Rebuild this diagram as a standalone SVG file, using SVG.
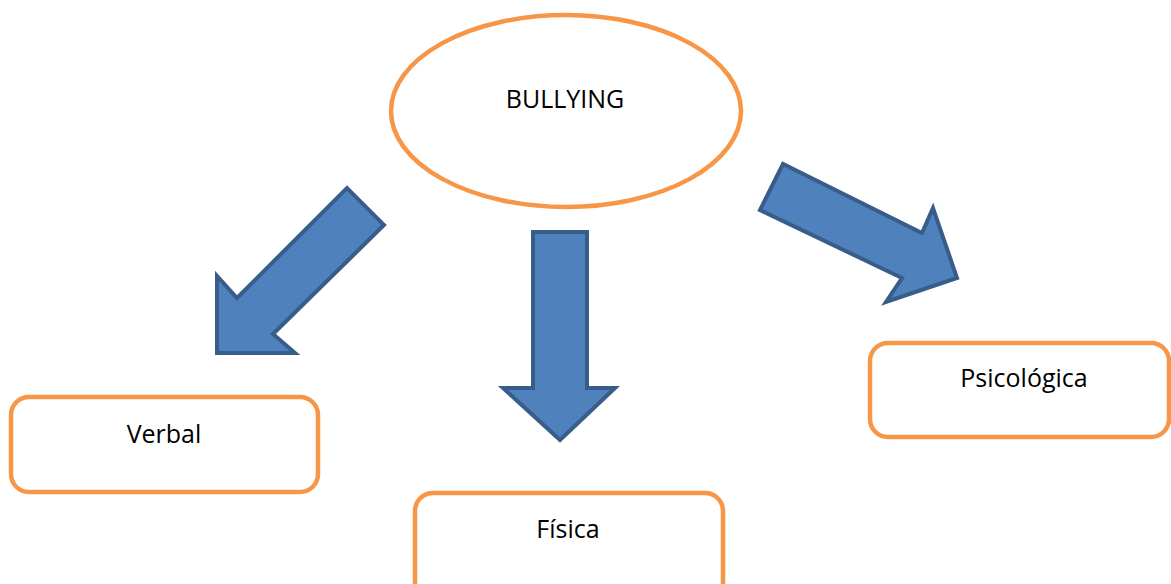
<svg xmlns="http://www.w3.org/2000/svg" width="1171" height="584" viewBox="0 0 1171 584">
<style>
.node{fill:#fff;stroke:#F79646;stroke-width:4.5}
.arrow{fill:#4F81BD;stroke:#385D8A;stroke-width:4;stroke-linejoin:miter}
.lbl{font-family:"Open Sans","Noto Sans",sans-serif;font-size:25px;fill:#000;text-anchor:middle}
</style>
<rect width="1171" height="584" fill="#fff"/>
<g id="connectors">
<polygon class="arrow" points="217,353 217,276 237,298 347,188 384,225 273,334 295,353"/>
<polygon class="arrow" points="533,232 587,232 587,388 615,388 560,440 503,388 533,388"/>
<polygon class="arrow" points="783,164 760,210 902,278 886,302 957,278 933,208 922,233"/>
</g>
<g id="bullying">
<ellipse class="node" cx="566" cy="111" rx="175" ry="96"/>
<text class="lbl" x="565" y="108">BULLYING</text>
</g>
<g id="verbal">
<rect class="node" x="11" y="397" width="307" height="95" rx="18"/>
<text class="lbl" x="164" y="443">Verbal</text>
</g>
<g id="fisica">
<rect class="node" x="415" y="493" width="308" height="110" rx="18"/>
<text class="lbl" x="568" y="538">Física</text>
</g>
<g id="psicologica">
<rect class="node" x="870" y="343" width="299" height="94" rx="18"/>
<text class="lbl" x="1024" y="387">Psicológica</text>
</g>
</svg>
